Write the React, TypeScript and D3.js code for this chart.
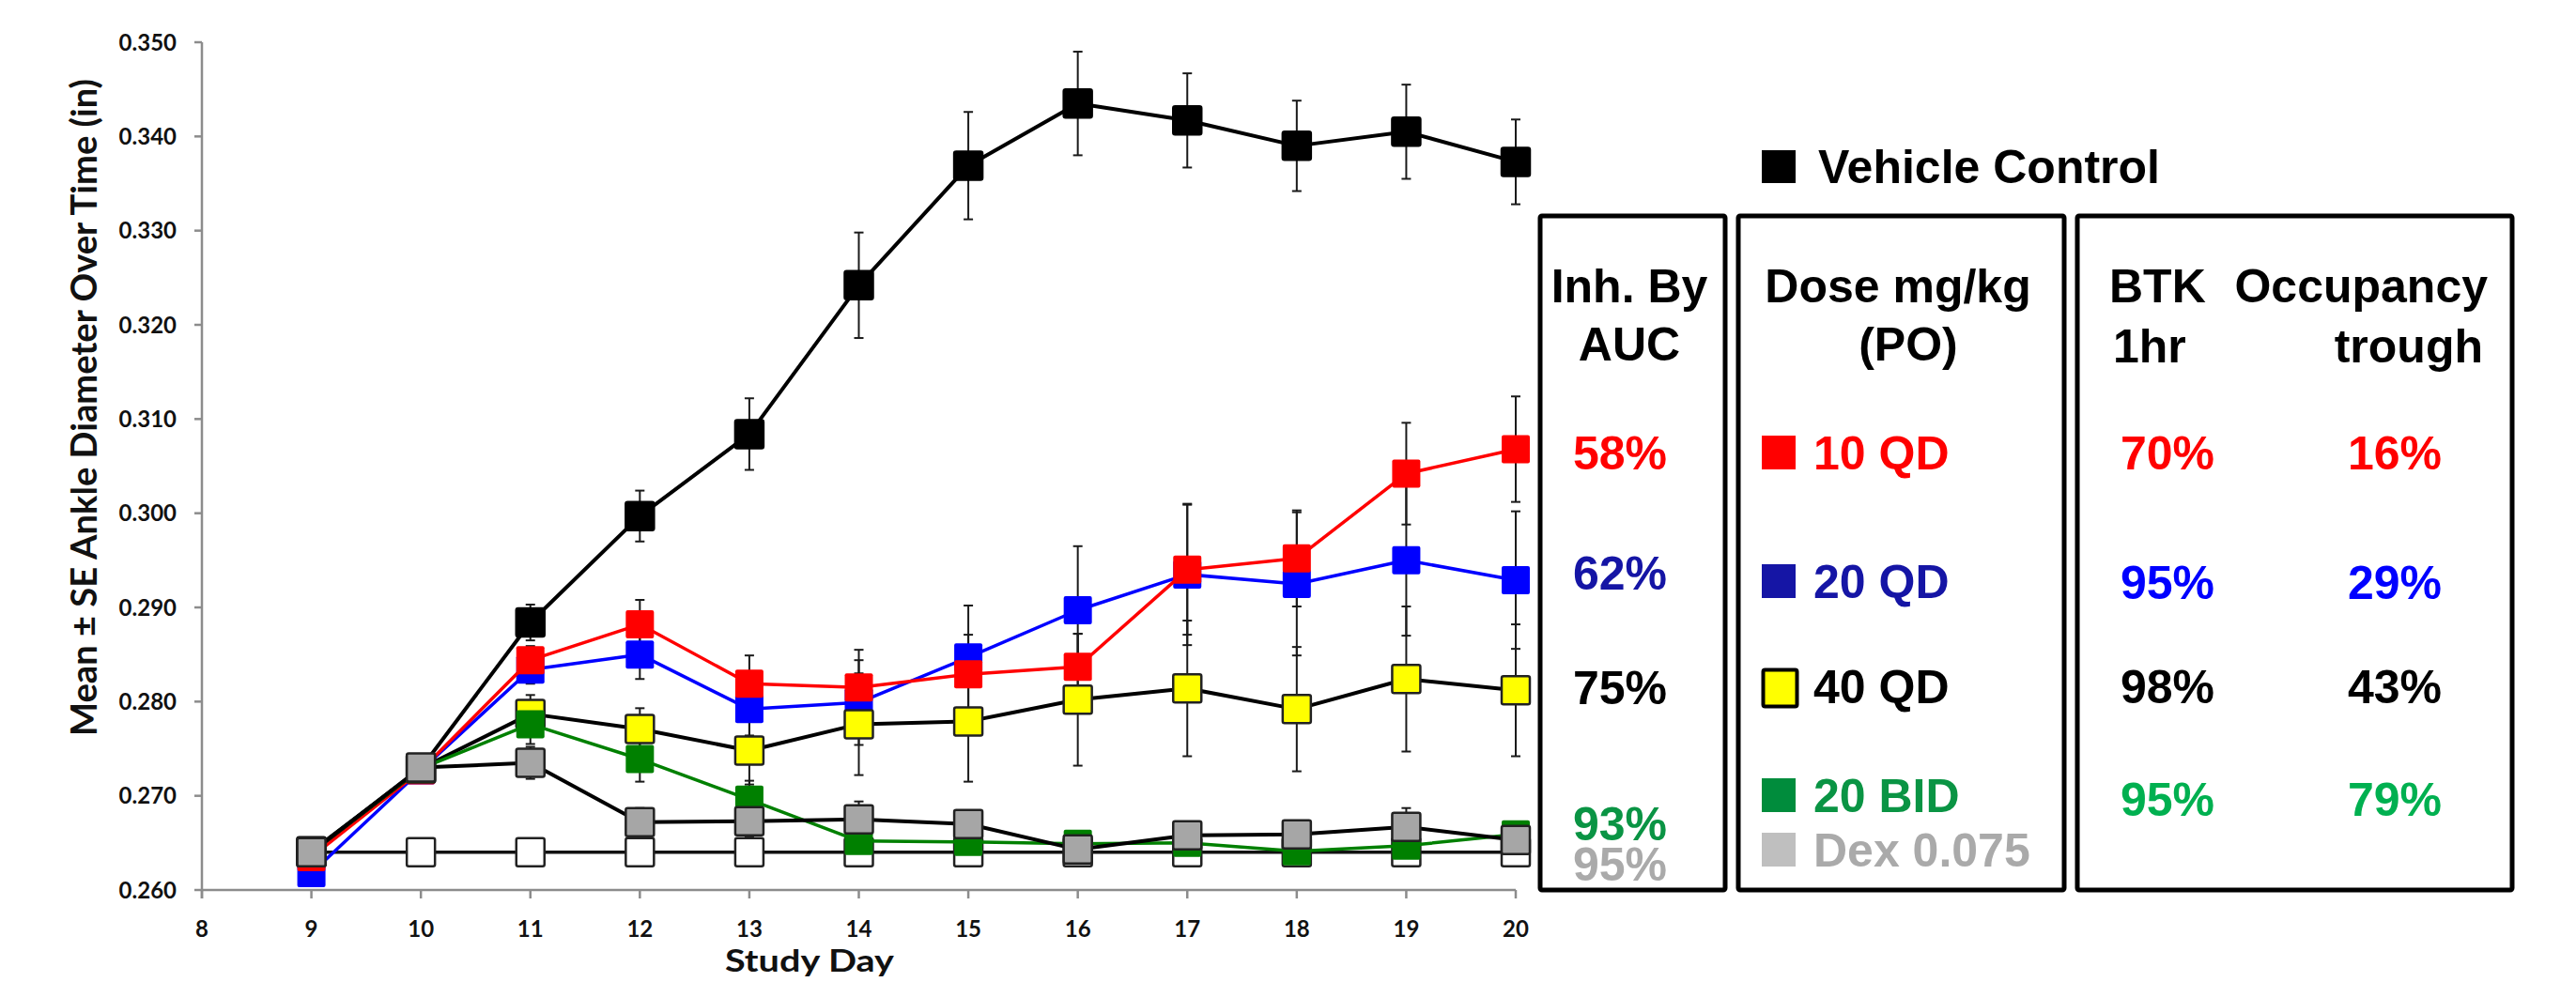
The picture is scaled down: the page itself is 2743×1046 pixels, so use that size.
import React from "react";
import * as d3 from "d3";

const days = [9, 10, 11, 12, 13, 14, 15, 16, 17, 18, 19, 20];
const xTicks = [8, 9, 10, 11, 12, 13, 14, 15, 16, 17, 18, 19, 20];
const yTicks = [0.26, 0.27, 0.28, 0.29, 0.3, 0.31, 0.32, 0.33, 0.34, 0.35];

const naive = [0.264, 0.264, 0.264, 0.264, 0.264, 0.264, 0.264, 0.264, 0.264, 0.264, 0.264, 0.264];
const vehicle = [0.2641, 0.2729, 0.2884, 0.2997, 0.3084, 0.3242, 0.3369, 0.3435, 0.3417, 0.339, 0.3405, 0.3373];
const vehicleSE = [0.0005, 0.0005, 0.0019, 0.0027, 0.0038, 0.0056, 0.0057, 0.0055, 0.005, 0.0048, 0.005, 0.0045];
const qd10 = [0.2635, 0.2727, 0.2844, 0.2882, 0.2819, 0.2815, 0.2829, 0.2837, 0.294, 0.2952, 0.3042, 0.3068];
const qd10SE = [0.0005, 0.0005, 0.0015, 0.0026, 0.003, 0.004, 0.0042, 0.0035, 0.0069, 0.0051, 0.0054, 0.0056];
const qd20 = [0.2618, 0.2727, 0.2834, 0.285, 0.2792, 0.2799, 0.2847, 0.2897, 0.2935, 0.2925, 0.295, 0.2929];
const qd20SE = [0.0005, 0.0005, 0.0015, 0.0026, 0.0028, 0.0045, 0.0055, 0.0068, 0.0075, 0.0076, 0.008, 0.0073];
const qd40 = [0.264, 0.2729, 0.2787, 0.2771, 0.2748, 0.2776, 0.2779, 0.2802, 0.2814, 0.2792, 0.2824, 0.2812];
const qd40SE = [0.0005, 0.0005, 0.002, 0.0022, 0.0036, 0.0054, 0.0064, 0.007, 0.0072, 0.0066, 0.0077, 0.007];
const bid20 = [0.264, 0.2729, 0.2776, 0.2739, 0.2696, 0.2652, 0.2651, 0.2649, 0.265, 0.2641, 0.2647, 0.2659];
const bid20SE = [0.0005, 0.0005, 0.0021, 0.0024, 0.002, 0.001, 0.001, 0.0008, 0.0008, 0.0008, 0.0008, 0.0008];
const dex = [0.264, 0.273, 0.2735, 0.2672, 0.2673, 0.2675, 0.267, 0.2643, 0.2658, 0.2659, 0.2667, 0.2653];
const dexSE = [0.0005, 0.0005, 0.0017, 0.0015, 0.0017, 0.0019, 0.001, 0.0008, 0.001, 0.0008, 0.002, 0.001];

const inhAUC = ["58%", "62%", "75%", "93%", "95%"];
const doseLabels = ["10 QD", "20 QD", "40 QD", "20 BID", "Dex 0.075"];
const btk1hr = ["70%", "95%", "98%", "95%"];
const btkTrough = ["16%", "29%", "43%", "79%"];

const series = [
  { name: "naive", values: naive, se: null as number[] | null, line: "#111", lw: 3.5, fill: "#ffffff", stroke: "#222" },
  { name: "vehicle", values: vehicle, se: vehicleSE, line: "#000", lw: 4, fill: "#000000", stroke: "#000" },
  { name: "qd20", values: qd20, se: qd20SE, line: "#0000ff", lw: 3.5, fill: "#0000ff", stroke: "none" },
  { name: "qd10", values: qd10, se: qd10SE, line: "#ff0000", lw: 3.5, fill: "#ff0000", stroke: "none" },
  { name: "qd40", values: qd40, se: qd40SE, line: "#000", lw: 4, fill: "#ffff00", stroke: "#222" },
  { name: "bid20", values: bid20, se: bid20SE, line: "#008000", lw: 3.5, fill: "#008000", stroke: "none" },
  { name: "dex", values: dex, se: dexSE, line: "#000", lw: 4, fill: "#a6a6a6", stroke: "#222" },
];

const W = 2743;
const H = 1046;

export default function App() {
  const x = d3.scaleLinear().domain([8, 20]).range([215, 1614]);
  const y = d3.scaleLinear().domain([0.26, 0.35]).range([948, 45]);
  const lineGen = (vals: number[]) =>
    d3.line<number>().x((_, i) => x(days[i])).y((v) => y(v))(vals) || "";
  const ms = 30;
  const tfont = "'Liberation Sans', Arial, sans-serif";
  const afont = "Lato, 'Open Sans', sans-serif";
  const rowInh = [500, 628, 750, 895, 938];
  const inhColors = ["#ff0000", "#1515a5", "#000000", "#0a9444", "#aaaaaa"];
  const rowDose = [500, 637, 749, 865, 923];
  const doseColors = ["#ff0000", "#1515a5", "#000000", "#0a9444", "#aaaaaa"];
  const doseSq = ["#ff0000", "#1515a5", "#ffff00", "#008c3c", "#bfbfbf"];
  const rowBtk = [500, 638, 749, 869];
  const btkColors = ["#ff0000", "#0000ff", "#000000", "#00b050"];

  return (
    <svg
      width={W}
      height={H}
      style={{ position: "absolute", left: 0, top: 0, background: "#fff" }}
    >
      <rect x={0} y={0} width={W} height={H} fill="#fff" />
      {/* axes */}
      <g stroke="#8c8c8c" strokeWidth={2.5}>
        <line x1={x(8)} x2={x(8)} y1={y(0.35)} y2={y(0.26) + 9} />
        <line x1={x(8)} x2={x(20)} y1={y(0.26)} y2={y(0.26)} />
        {yTicks.map((t) => (
          <line key={"yt" + t} x1={x(8) - 8} x2={x(8)} y1={y(t)} y2={y(t)} />
        ))}
        {xTicks.map((t) => (
          <line key={"xt" + t} x1={x(t)} x2={x(t)} y1={y(0.26)} y2={y(0.26) + 9} />
        ))}
      </g>
      <g fontFamily={afont} fontWeight="bold" fontSize={24} fill="#111">
        {yTicks.map((t) => (
          <text key={"yl" + t} x={188} y={y(t) + 8.5} textAnchor="end">
            {d3.format(".3f")(t)}
          </text>
        ))}
        {xTicks.map((t) => (
          <text key={"xl" + t} x={x(t)} y={998} textAnchor="middle">
            {t}
          </text>
        ))}
      </g>
      <text
        x={862}
        y={1035}
        textAnchor="middle"
        fontFamily={afont}
        fontWeight="bold"
        fontSize={32}
        textLength={180}
        lengthAdjust="spacingAndGlyphs"
        fill="#111"
      >
        Study Day
      </text>
      <text
        transform={`translate(103,434) rotate(-90)`}
        textAnchor="middle"
        fontFamily={afont}
        fontWeight="bold"
        fontSize={38}
        textLength={700}
        lengthAdjust="spacingAndGlyphs"
        fill="#111"
      >
        Mean ± SE Ankle Diameter Over Time (in)
      </text>

      {/* error bars */}
      <g stroke="#1a1a1a" strokeWidth={2}>
        {series.map((s) =>
          s.se
            ? s.values.map((v, i) => {
                const cx = x(days[i]);
                const e = s.se![i];
                return (
                  <g key={s.name + "e" + i}>
                    <line x1={cx} x2={cx} y1={y(v + e)} y2={y(v - e)} />
                    <line x1={cx - 5} x2={cx + 5} y1={y(v + e)} y2={y(v + e)} />
                    <line x1={cx - 5} x2={cx + 5} y1={y(v - e)} y2={y(v - e)} />
                  </g>
                );
              })
            : null
        )}
      </g>

      {/* series */}
      {series.map((s) => (
        <g key={s.name}>
          <path d={lineGen(s.values)} fill="none" stroke={s.line} strokeWidth={s.lw} strokeLinejoin="round" />
          {s.values.map((v, i) => (
            <rect
              key={i}
              x={x(days[i]) - ms / 2}
              y={y(v) - ms / 2}
              width={ms}
              height={ms}
              rx={2}
              fill={s.fill}
              stroke={s.stroke}
              strokeWidth={s.stroke === "none" ? 0 : 2.5}
            />
          ))}
        </g>
      ))}

      {/* legend / table */}
      <g fontFamily={tfont} fontWeight="bold" fontSize={50}>
        <rect x={1876} y={160} width={36} height={35} fill="#000" />
        <text x={1936} y={195} fill="#000">Vehicle Control</text>

        <g fill="none" stroke="#000" strokeWidth={5}>
          <rect x={1640} y={230} width={197} height={718} rx={2} />
          <rect x={1851} y={230} width={347} height={718} rx={2} />
          <rect x={2212} y={230} width={463} height={718} rx={2} />
        </g>

        <text x={1735} y={322} textAnchor="middle" fill="#000">Inh. By</text>
        <text x={1735} y={384} textAnchor="middle" fill="#000">AUC</text>
        <text x={2021} y={322} textAnchor="middle" fill="#000">Dose mg/kg</text>
        <text x={2032} y={384} textAnchor="middle" fill="#000">(PO)</text>
        <text x={2246} y={322} fill="#000">BTK</text>
        <text x={2649} y={322} textAnchor="end" fill="#000">Occupancy</text>
        <text x={2250} y={386} fill="#000">1hr</text>
        <text x={2644} y={386} textAnchor="end" fill="#000">trough</text>

        {inhAUC.map((t, i) => (
          <text key={"inh" + i} x={1675} y={rowInh[i]} fill={inhColors[i]}>{t}</text>
        ))}
        {doseLabels.map((t, i) => (
          <g key={"dose" + i}>
            {i === 2 ? (
              <rect x={1877.5} y={713.5} width={36} height={39} fill={doseSq[i]} stroke="#000" strokeWidth={4} rx={2} />
            ) : (
              <rect x={1876} y={rowDose[i] - 36} width={36} height={36} fill={doseSq[i]} />
            )}
            <text x={1931} y={rowDose[i]} fill={doseColors[i]}>{t}</text>
          </g>
        ))}
        {btk1hr.map((t, i) => (
          <text key={"b1" + i} x={2258} y={rowBtk[i]} fill={btkColors[i]}>{t}</text>
        ))}
        {btkTrough.map((t, i) => (
          <text key={"bt" + i} x={2500} y={rowBtk[i]} fill={btkColors[i]}>{t}</text>
        ))}
      </g>
    </svg>
  );
}
